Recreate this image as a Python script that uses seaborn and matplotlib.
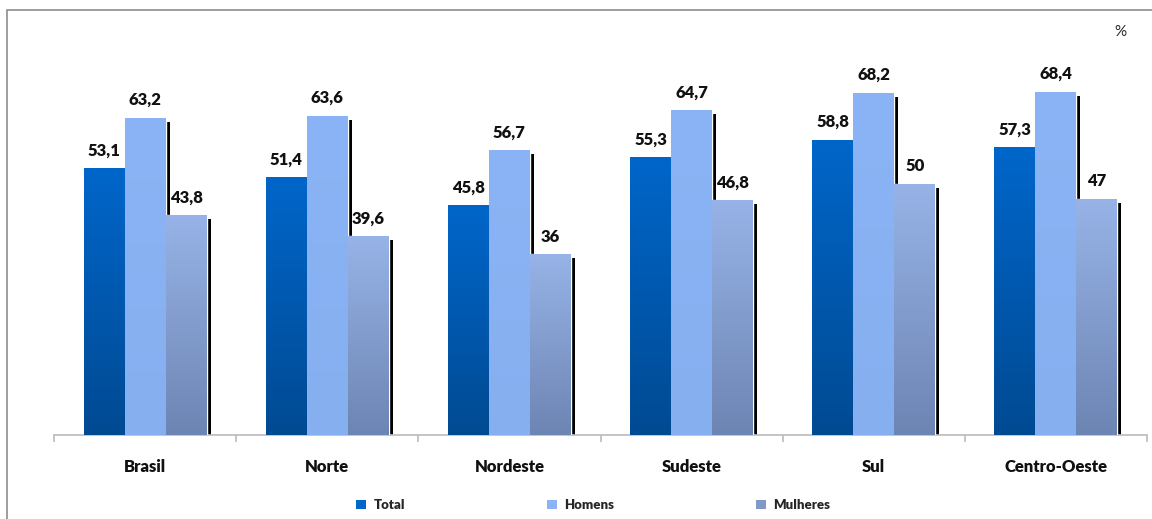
import numpy as np
import pandas as pd
import matplotlib
matplotlib.use("Agg")
import matplotlib.pyplot as plt
import matplotlib.transforms as mtransforms
from matplotlib.colors import LinearSegmentedColormap
from matplotlib.patches import Rectangle, Patch
import seaborn as sns

# ── data ──────────────────────────────────────────────
regioes  = ["Brasil", "Norte", "Nordeste", "Sudeste", "Sul", "Centro-Oeste"]
grupos   = ["Total", "Homens", "Mulheres"]
total    = [53.1, 51.4, 45.8, 55.3, 58.8, 57.3]
homens   = [63.2, 63.6, 56.7, 64.7, 68.2, 68.4]
mulheres = [43.8, 39.6, 36.0, 46.8, 50.0, 47.0]
rotulos  = {
    "Total":    ["53,1", "51,4", "45,8", "55,3", "58,8", "57,3"],
    "Homens":   ["63,2", "63,6", "56,7", "64,7", "68,2", "68,4"],
    "Mulheres": ["43,8", "39,6", "36", "46,8", "50", "47"],
}

df = pd.DataFrame({
    "regiao": regioes * 3,
    "grupo": [g for g in grupos for _ in regioes],
    "valor": total + homens + mulheres,
})

# gradient colours (top, bottom)
grad = {
    "Total":    ("#0066CA", "#004A92"),
    "Homens":   ("#8AB4F5", "#86AFF0"),
    "Mulheres": ("#97B3E7", "#6D85B3"),
}
palette = {g: grad[g][0] for g in grupos}

sns.set_style("white")
plt.rcParams["font.family"] = ["Lato", "DejaVu Sans"]
BOLD = 800

fig = plt.figure(figsize=(11.52, 5.19), dpi=100)
ax = fig.add_axes([54 / 1152, 1 - 435 / 519, 1093 / 1152, 401.6 / 519])

sns.barplot(data=df, x="regiao", y="valor", hue="grupo", order=regioes,
            hue_order=grupos, palette=palette, saturation=1, width=0.675,
            legend=False, ax=ax, zorder=3)

ax.set_xlim(-0.5, 5.5)
ax.set_ylim(0, 80)

shadow_tr = ax.transData + mtransforms.ScaledTranslation(4 / 100, -4 / 100, fig.dpi_scale_trans)

for g, cont in zip(grupos, ax.containers):
    cmap = LinearSegmentedColormap.from_list(g, [grad[g][1], grad[g][0]])
    for bar, lab in zip(cont, rotulos[g]):
        x0, w, h = bar.get_x(), bar.get_width(), bar.get_height()
        # drop shadow
        sh = Rectangle((x0, 0), w, h, facecolor="black", edgecolor="none",
                       transform=shadow_tr, zorder=1)
        sh.set_clip_box(ax.bbox)
        ax.add_patch(sh)
        # vertical gradient clipped to the bar
        img = ax.imshow(np.linspace(0, 1, 256).reshape(-1, 1), cmap=cmap,
                        origin="lower", extent=(x0, x0 + w, 0, h),
                        aspect="auto", zorder=3.5, interpolation="bicubic")
        img.set_clip_path(bar)
        ax.annotate(lab, (x0 + w / 2, h), xytext=(0, 7), textcoords="offset points",
                    ha="center", va="bottom", fontsize=12, fontweight=BOLD,
                    color="#111111")

ax.set_xlim(-0.5, 5.5)
ax.set_ylim(0, 80)

for s in ["top", "right", "left"]:
    ax.spines[s].set_visible(False)
ax.spines["bottom"].set_color("#BBBBBB")
ax.spines["bottom"].set_linewidth(1.2)
ax.set_yticks([])
ax.set_xlabel("")
ax.set_ylabel("")
ax.set_xticks(range(len(regioes)))
ax.set_xticklabels(regioes, fontsize=12, fontweight=BOLD, color="#111111")
ax.tick_params(axis="x", which="major", length=0, pad=17)
ax.set_xticks(np.arange(-0.5, 6, 1), minor=True)
ax.tick_params(axis="x", which="minor", length=5, width=1.2, color="#BBBBBB",
               direction="out", bottom=True)

fig.text(1120 / 1152, 1 - 32 / 519, "%", ha="center", va="center", fontsize=11)

handles = [Patch(facecolor=grad[g][0] if g != "Mulheres" else "#8199C8",
                 edgecolor="none") for g in grupos]
fig.legend(handles, grupos, loc="center", bbox_to_anchor=(0.515, 1 - 505 / 519),
           ncol=3, frameon=False, prop={"weight": BOLD, "size": 9.5},
           handlelength=0.75, handleheight=0.75, handletextpad=0.6,
           columnspacing=10.7)

# frame of the cropped chart area
fig.patches.append(Rectangle((7 / 1152, -0.05), 1.1, 1 - 10 / 519 + 0.05,
                             transform=fig.transFigure, fill=False,
                             edgecolor="#8C8C8C", linewidth=1.2))

fig.savefig("out.png", dpi=100)
